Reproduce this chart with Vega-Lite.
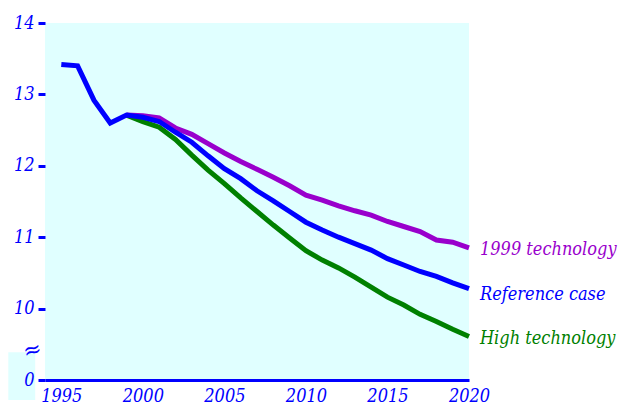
{
  "$schema": "https://vega.github.io/schema/vega-lite/v6.json",
  "width": 424,
  "height": 357,
  "autosize": {"type": "none"},
  "padding": {"left": 45, "top": 23, "right": 149, "bottom": 27},
  "background": "#ffffff",
  "config": {
    "view": {"fill": "#E0FFFF", "stroke": null},
    "font": "DejaVu Serif Condensed"
  },
  "datasets": {
    "lines": [
      {"year": 1995, "series": "Reference case", "value": 13.42},
      {"year": 1996, "series": "Reference case", "value": 13.40},
      {"year": 1997, "series": "Reference case", "value": 12.92},
      {"year": 1998, "series": "Reference case", "value": 12.60},
      {"year": 1999, "series": "Reference case", "value": 12.71},
      {"year": 2000, "series": "Reference case", "value": 12.68},
      {"year": 2001, "series": "Reference case", "value": 12.62},
      {"year": 2002, "series": "Reference case", "value": 12.47},
      {"year": 2003, "series": "Reference case", "value": 12.33},
      {"year": 2004, "series": "Reference case", "value": 12.14},
      {"year": 2005, "series": "Reference case", "value": 11.96},
      {"year": 2006, "series": "Reference case", "value": 11.82},
      {"year": 2007, "series": "Reference case", "value": 11.65},
      {"year": 2008, "series": "Reference case", "value": 11.51},
      {"year": 2009, "series": "Reference case", "value": 11.36},
      {"year": 2010, "series": "Reference case", "value": 11.21},
      {"year": 2011, "series": "Reference case", "value": 11.10},
      {"year": 2012, "series": "Reference case", "value": 11.00},
      {"year": 2013, "series": "Reference case", "value": 10.91},
      {"year": 2014, "series": "Reference case", "value": 10.82},
      {"year": 2015, "series": "Reference case", "value": 10.70},
      {"year": 2016, "series": "Reference case", "value": 10.61},
      {"year": 2017, "series": "Reference case", "value": 10.52},
      {"year": 2018, "series": "Reference case", "value": 10.45},
      {"year": 2019, "series": "Reference case", "value": 10.36},
      {"year": 2020, "series": "Reference case", "value": 10.28},
      {"year": 1999, "series": "1999 technology", "value": 12.71},
      {"year": 2000, "series": "1999 technology", "value": 12.70},
      {"year": 2001, "series": "1999 technology", "value": 12.67},
      {"year": 2002, "series": "1999 technology", "value": 12.53},
      {"year": 2003, "series": "1999 technology", "value": 12.44},
      {"year": 2004, "series": "1999 technology", "value": 12.31},
      {"year": 2005, "series": "1999 technology", "value": 12.18},
      {"year": 2006, "series": "1999 technology", "value": 12.06},
      {"year": 2007, "series": "1999 technology", "value": 11.95},
      {"year": 2008, "series": "1999 technology", "value": 11.84},
      {"year": 2009, "series": "1999 technology", "value": 11.72},
      {"year": 2010, "series": "1999 technology", "value": 11.59},
      {"year": 2011, "series": "1999 technology", "value": 11.52},
      {"year": 2012, "series": "1999 technology", "value": 11.44},
      {"year": 2013, "series": "1999 technology", "value": 11.37},
      {"year": 2014, "series": "1999 technology", "value": 11.31},
      {"year": 2015, "series": "1999 technology", "value": 11.22},
      {"year": 2016, "series": "1999 technology", "value": 11.15},
      {"year": 2017, "series": "1999 technology", "value": 11.08},
      {"year": 2018, "series": "1999 technology", "value": 10.96},
      {"year": 2019, "series": "1999 technology", "value": 10.93},
      {"year": 2020, "series": "1999 technology", "value": 10.85},
      {"year": 1999, "series": "High technology", "value": 12.71},
      {"year": 2000, "series": "High technology", "value": 12.62},
      {"year": 2001, "series": "High technology", "value": 12.54},
      {"year": 2002, "series": "High technology", "value": 12.37},
      {"year": 2003, "series": "High technology", "value": 12.15},
      {"year": 2004, "series": "High technology", "value": 11.94},
      {"year": 2005, "series": "High technology", "value": 11.75},
      {"year": 2006, "series": "High technology", "value": 11.55},
      {"year": 2007, "series": "High technology", "value": 11.36},
      {"year": 2008, "series": "High technology", "value": 11.17},
      {"year": 2009, "series": "High technology", "value": 10.99},
      {"year": 2010, "series": "High technology", "value": 10.81},
      {"year": 2011, "series": "High technology", "value": 10.68},
      {"year": 2012, "series": "High technology", "value": 10.57},
      {"year": 2013, "series": "High technology", "value": 10.44},
      {"year": 2014, "series": "High technology", "value": 10.30},
      {"year": 2015, "series": "High technology", "value": 10.16},
      {"year": 2016, "series": "High technology", "value": 10.05},
      {"year": 2017, "series": "High technology", "value": 9.92},
      {"year": 2018, "series": "High technology", "value": 9.82},
      {"year": 2019, "series": "High technology", "value": 9.71},
      {"year": 2020, "series": "High technology", "value": 9.61}
    ],
    "labels": [
      {"year": 2020, "series": "1999 technology", "value": 10.82},
      {"year": 2020, "series": "Reference case", "value": 10.19},
      {"year": 2020, "series": "High technology", "value": 9.57}
    ]
  },
  "encoding": {
    "x": {
      "field": "year", "type": "quantitative",
      "scale": {"domain": [1994, 2020], "nice": false, "zero": false},
      "axis": {
        "title": null, "grid": false, "ticks": false,
        "values": [1995, 2000, 2005, 2010, 2015, 2020], "format": "d",
        "domainColor": "#0000FF", "domainWidth": 3,
        "labelColor": "#0000FF", "labelFont": "DejaVu Serif Condensed", "labelFontStyle": "italic",
        "labelFontSize": 18, "labelPadding": 7, "labelFlush": false, "labelOverlap": false
      }
    },
    "y": {
      "field": "value", "type": "quantitative",
      "scale": {"domain": [9, 14], "nice": false, "zero": false},
      "axis": {
        "title": null, "grid": false, "domain": false, "zindex": 1,
        "values": [9, 10, 11, 12, 13, 14],
        "labelExpr": "datum.value == 9 ? '0' : datum.label",
        "tickColor": "#0000FF", "tickSize": 7, "tickWidth": 3,
        "labelColor": "#0000FF", "labelFont": "DejaVu Serif Condensed", "labelFontStyle": "italic",
        "labelFontSize": 18, "labelPadding": 4, "labelFlush": false, "labelOverlap": false
      }
    }
  },
  "layer": [
    {
      "data": {"values": [{"x1": 1991.75, "x2": 1993.4, "y1": 8.72, "y2": 9.39}]},
      "mark": {"type": "rect", "fill": "#E0FFFF", "clip": false},
      "encoding": {
        "x": {"field": "x1", "type": "quantitative"},
        "x2": {"field": "x2"},
        "y": {"field": "y1", "type": "quantitative"},
        "y2": {"field": "y2"}
      }
    },
    {
      "data": {"values": [{"x": 1993.22, "y": 9.42, "t": "≈"}]},
      "mark": {"type": "text", "color": "#0000FF", "font": "DejaVu Serif", "fontStyle": "italic", "fontSize": 22, "align": "center", "baseline": "middle", "angle": -15, "clip": false},
      "encoding": {
        "x": {"field": "x", "type": "quantitative"},
        "y": {"field": "y", "type": "quantitative"},
        "text": {"field": "t"}
      }
    },
    {
      "data": {"name": "lines"},
      "transform": [{"filter": "datum.series == '1999 technology'"}],
      "mark": {"type": "line", "color": "#9900CC", "strokeWidth": 5, "strokeCap": "butt"}
    },
    {
      "data": {"name": "lines"},
      "transform": [{"filter": "datum.series == 'High technology'"}],
      "mark": {"type": "line", "color": "#008000", "strokeWidth": 5, "strokeCap": "butt"}
    },
    {
      "data": {"name": "lines"},
      "transform": [{"filter": "datum.series == 'Reference case'"}],
      "mark": {"type": "line", "color": "#0000FF", "strokeWidth": 5, "strokeCap": "butt"}
    },
    {
      "data": {"name": "labels"},
      "mark": {"type": "text", "align": "left", "baseline": "middle", "dx": 11, "font": "DejaVu Serif Condensed", "fontStyle": "italic", "fontSize": 18, "clip": false},
      "encoding": {
        "text": {"field": "series"},
        "color": {
          "field": "series", "type": "nominal", "legend": null,
          "scale": {"domain": ["1999 technology", "Reference case", "High technology"], "range": ["#9900CC", "#0000FF", "#008000"]}
        }
      }
    }
  ]
}
